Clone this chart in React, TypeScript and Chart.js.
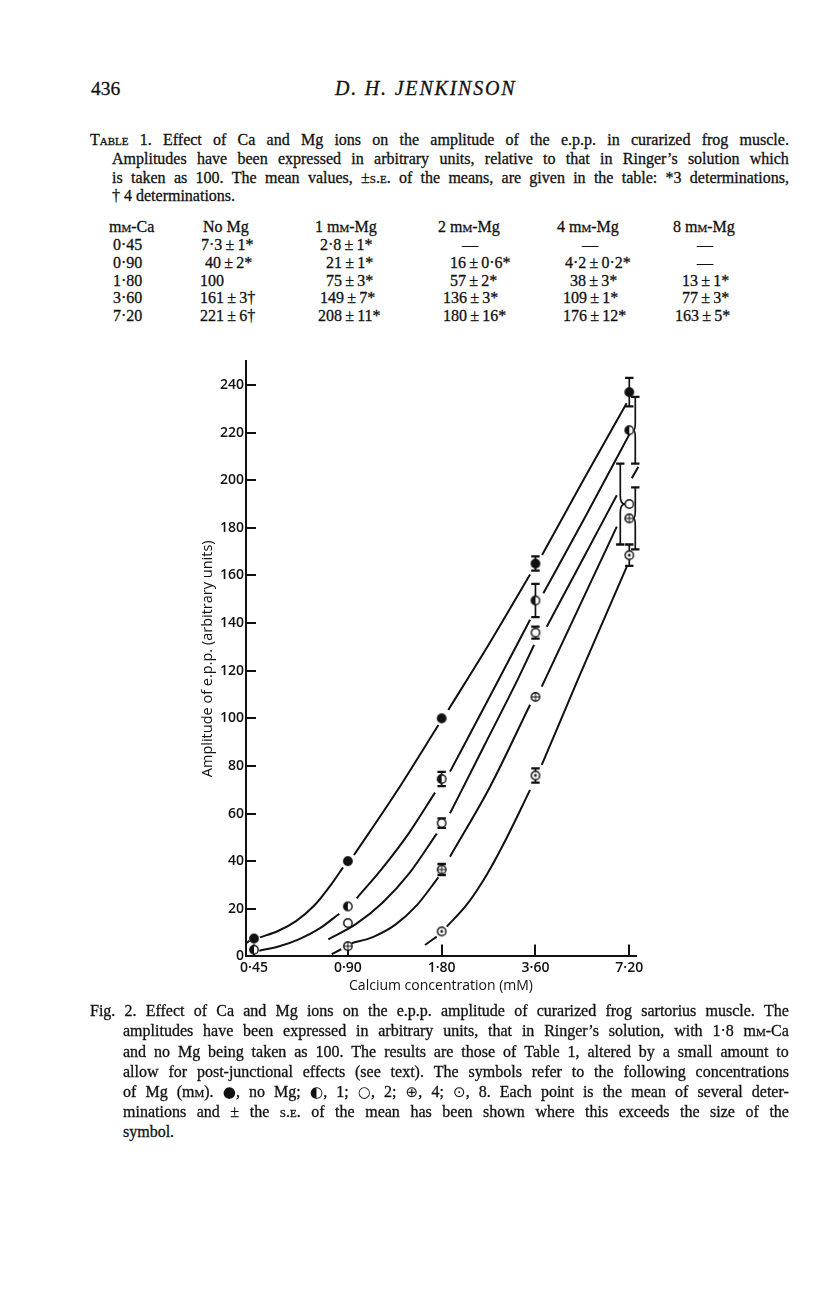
import React, { useEffect, useRef } from 'react';
import { Chart, registerables } from 'chart.js';

Chart.register(...registerables);

// ---------------- DATA ----------------
const caConc = [0.45, 0.9, 1.8, 3.6, 7.2];
const caTickLabels = ['0·45', '0·90', '1·80', '3·60', '7·20'];
const yTickValues = [0, 20, 40, 60, 80, 100, 120, 140, 160, 180, 200, 220, 240];

// plotted amplitudes (figure) and their s.e.
const ampNoMg = [7.5, 40, 100, 165, 237];
const errNoMg = [null, null, null, 3, 6];
const amp1Mg = [2.8, 21, 74.5, 149.5, 221];
const err1Mg = [null, null, 3, 7, 14];
const amp2Mg = [null, 14, 56, 136, 190];
const err2Mg = [null, null, 2, 2.5, 17];
const amp4Mg = [null, 4.3, 36.5, 109, 184];
const err4Mg = [null, null, 2.3, null, 13];
const amp8Mg = [null, null, 10.5, 76, 168.5];
const err8Mg = [null, null, null, 3, 4.5];

type Pt = [number, number] | null;
// hand-drawn fitted curves (null = break in the line)
const curveNoMg: Pt[] = [
  [0.426, 5.7], [0.435, 6.6], null,
  [0.47, 8.0], [0.5374, 10.67], [0.6138, 14.83], [0.701, 21.25], [0.8009, 30.7], [0.8686, 37.42], null,
  [0.942, 42.6], [1.285, 68.84], [1.758, 97.2], null,
  [1.89, 103.5], [2.555, 131.2], [3.459, 160.4], null,
  [3.78, 168.6], [5.13, 200.1], [7.06, 232.3], null,
  [7.59, 239.3], [8.37, 247.4],
];
const curve1Mg: Pt[] = [
  [0.468, 2.4], [0.5425, 4.24], [0.6289, 7.27], [0.729, 11.63], [0.845, 17.93], null,
  [0.961, 24.4], [1.1657, 37.3], [1.4136, 51.8], [1.714, 68.8], null,
  [1.915, 77.6], [2.574, 109.4], [3.459, 141.4], null,
  [3.816, 152.5], [5.26, 185.8], [7.245, 219.9], null,
  [8.03, 229.5], [8.65, 237.2],
];
const curve2Mg: Pt[] = [
  [0.779, 7.2], [0.952, 13.44], [1.163, 22.55], [1.421, 35.07], [1.736, 51.57], null,
  [1.915, 60.1], [2.463, 88.4], [3.17, 116.8], [3.563, 130.8], null,
  [3.913, 138.5], [5.07, 166.1], [6.566, 193.7], null,
  [7.335, 200.8], [7.7, 205.7], null,
  [7.955, 213.4], [8.568, 221.8],
];
const curve4Mg: Pt[] = [
  [0.799, 0.9], [0.857, 3.0], null,
  [0.926, 5.5], [1.0871, 8.23], [1.276, 13.23], [1.497, 21.42], [1.757, 33.22], null,
  [1.915, 41.9], [2.574, 71.27], [3.459, 105.7], null,
  [3.771, 113.3], [6.566, 180.5], null,
  [7.955, 198], [8.6, 206],
];
const curve8Mg: Pt[] = [
  [1.592, 4.8], [1.736, 8.3], null,
  [1.869, 12.5], [2.167, 21.71], [2.512, 34.31], [2.912, 49.85], [3.459, 69.93], null,
  [3.771, 80.4], [4.943, 116.8], [7.068, 163.7], null,
  [7.99, 183.3], [8.65, 190.3],
];

// table 1 text
const tableHeaders = ['m^m^-Ca', 'No Mg', '1 m^m^-Mg', '2 m^m^-Mg', '4 m^m^-Mg', '8 m^m^-Mg'];
const tableCa = ['0·45', '0·90', '1·80', '3·60', '7·20'];
const tableNoMg = ['7·3\u2009±\u20091*', '40\u2009±\u20092*', '100', '161\u2009±\u20093†', '221\u2009±\u20096†'];
const table1Mg = ['2·8\u2009±\u20091*', '21\u2009±\u20091*', '75\u2009±\u20093*', '149\u2009±\u20097*', '208\u2009±\u200911*'];
const table2Mg = ['—', '16\u2009±\u20090·6*', '57\u2009±\u20092*', '136\u2009±\u20093*', '180\u2009±\u200916*'];
const table4Mg = ['—', '4·2\u2009±\u20090·2*', '38\u2009±\u20093*', '109\u2009±\u20091*', '176\u2009±\u200912*'];
const table8Mg = ['—', '—', '13\u2009±\u20091*', '77\u2009±\u20093*', '163\u2009±\u20095*'];

const tableCaption = [
  'T^able^ 1. Effect of Ca and Mg ions on the amplitude of the e.p.p. in curarized frog muscle.',
  'Amplitudes have been expressed in arbitrary units, relative to that in Ringer’s solution which',
  'is taken as 100. The mean values, ±^s.e.^ of the means, are given in the table: *3 determinations,',
  '† 4 determinations.',
];
const figCaption = [
  'Fig. 2. Effect of Ca and Mg ions on the e.p.p. amplitude of curarized frog sartorius muscle. The',
  'amplitudes have been expressed in arbitrary units, that in Ringer’s solution, with 1·8 m^m^-Ca',
  'and no Mg being taken as 100. The results are those of Table 1, altered by a small amount to',
  'allow for post-junctional effects (see text). The symbols refer to the following concentrations',
  'of Mg (m^m^). ●, no Mg; ◐, 1; ○, 2; ⊕, 4; ⊙, 8. Each point is the mean of several deter-',
  'minations and ± the ^s.e.^ of the mean has been shown where this exceeds the size of the',
  'symbol.',
];

// ---------------- STYLE / LAYOUT ----------------
const SERIF = "'Liberation Serif', 'Times New Roman', serif";
const SANS = "'Open Sans', 'Noto Sans', sans-serif";
const SYMBOL_FONT = "'DejaVu Sans', sans-serif";
const INK = '#111';
const TXT = 16;

const tableCapCenters = [141, 160, 178.5, 197];
const tableCapLefts = [90, 112, 112, 112];
const figCapCenters = [1012, 1032, 1053, 1073, 1093, 1113, 1133];
const figCapLefts = [90, 123, 123, 123, 123, 123, 123];
const TEXT_RIGHT = 789;

const headerY = 227;
const rowY = [245, 263, 280.5, 298, 316];
const headerX = [109, 203, 315, 438, 557, 673];
const colX = [
  [113, 113, 113, 113, 113],
  [201, 205, 200, 200, 200],
  [320, 326, 326, 320, 318],
  [462, 450, 450, 443, 443],
  [582, 565, 570, 563, 563],
  [697, 697, 682, 682, 675],
];

// horizontal shift (px) of s.e. bars drawn beside the symbol, key "series-index"
const BAR_SHIFT: Record<string, number> = { '1-4': 6, '2-4': -9, '3-4': 6 };

const series = [
  { amp: ampNoMg, err: errNoMg, curve: curveNoMg, marker: 'filled' },
  { amp: amp1Mg, err: err1Mg, curve: curve1Mg, marker: 'half' },
  { amp: amp2Mg, err: err2Mg, curve: curve2Mg, marker: 'open' },
  { amp: amp4Mg, err: err4Mg, curve: curve4Mg, marker: 'plus' },
  { amp: amp8Mg, err: err8Mg, curve: curve8Mg, marker: 'dot' },
];

function makeMarker(kind: string): HTMLCanvasElement {
  const size = 12;
  const r = 4.2;
  const c = document.createElement('canvas');
  c.width = size;
  c.height = size;
  const g = c.getContext('2d')!;
  const cx = size / 2;
  const cy = size / 2;
  g.lineWidth = 1.4;
  g.strokeStyle = INK;
  g.beginPath();
  g.arc(cx, cy, r, 0, Math.PI * 2);
  g.fillStyle = kind === 'filled' ? INK : '#fff';
  g.fill();
  g.stroke();
  if (kind === 'half') {
    g.beginPath();
    g.arc(cx, cy, r, Math.PI / 2, (Math.PI * 3) / 2);
    g.closePath();
    g.fillStyle = INK;
    g.fill();
  }
  if (kind === 'plus') {
    g.lineWidth = 1;
    g.beginPath();
    g.moveTo(cx - r, cy);
    g.lineTo(cx + r, cy);
    g.moveTo(cx, cy - r);
    g.lineTo(cx, cy + r);
    g.stroke();
  }
  if (kind === 'dot') {
    g.beginPath();
    g.arc(cx, cy, 1.4, 0, Math.PI * 2);
    g.fillStyle = INK;
    g.fill();
  }
  return c;
}

const errorBarPlugin = {
  id: 'errorBars',
  beforeDatasetsDraw(chart: any) {
    const xs = chart.scales.x;
    const ys = chart.scales.y;
    const ctx = chart.ctx as CanvasRenderingContext2D;
    ctx.save();
    ctx.strokeStyle = INK;
    series.forEach((s, si) => {
      s.err.forEach((e, i) => {
        const v = s.amp[i];
        if (e == null || v == null) return;
        const mx = xs.getPixelForValue(caConc[i]);
        const my = ys.getPixelForValue(v);
        const shift = BAR_SHIFT[`${si}-${i}`] || 0;
        const bx = mx + shift;
        const top = ys.getPixelForValue(v + e);
        const bot = ys.getPixelForValue(v - e);
        ctx.lineWidth = 1.7;
        ctx.beginPath();
        if (shift === 0) {
          ctx.moveTo(bx, top);
          ctx.lineTo(bx, bot);
        } else {
          const ex = mx + Math.sign(shift) * 4.2;
          ctx.moveTo(bx, top);
          ctx.lineTo(bx, my - 8);
          ctx.quadraticCurveTo(bx, my, ex, my);
          ctx.moveTo(ex, my);
          ctx.quadraticCurveTo(bx, my, bx, my + 8);
          ctx.lineTo(bx, bot);
        }
        ctx.stroke();
        ctx.lineWidth = 2.3;
        ctx.beginPath();
        ctx.moveTo(bx - 4.2, top);
        ctx.lineTo(bx + 4.2, top);
        ctx.moveTo(bx - 4.2, bot);
        ctx.lineTo(bx + 4.2, bot);
        ctx.stroke();
      });
    });
    ctx.restore();
  },
};

function symbols(text: string, key: string) {
  return text.split(/([●◐○⊕⊙])/).map((p, j) =>
    /^[●◐○⊕⊙]$/.test(p) ? (
      <span key={key + j} style={{ fontFamily: SYMBOL_FONT, fontSize: '0.95em', WebkitTextStroke: '0px' }}>{p}</span>
    ) : (
      <React.Fragment key={key + j}>{p}</React.Fragment>
    )
  );
}

function rich(text: string) {
  return text.split('^').map((part, i) =>
    i % 2 ? (
      <span key={i} style={{ fontVariant: 'small-caps' }}>{part}</span>
    ) : (
      <React.Fragment key={i}>{symbols(part, String(i))}</React.Fragment>
    )
  );
}

function TextLine({ text, left, center, justify }: { text: string; left: number; center: number; justify: boolean }) {
  const base: React.CSSProperties = {
    position: 'absolute',
    left,
    top: center - 8.9,
    fontSize: TXT,
    lineHeight: `${TXT}px`,
    whiteSpace: 'nowrap',
  };
  if (!justify) return <div style={base}>{rich(text)}</div>;
  const words = text.split(' ').filter(Boolean);
  return (
    <div style={{ ...base, width: TEXT_RIGHT - left, display: 'flex', justifyContent: 'space-between' }}>
      {words.map((w, i) => (
        <span key={i}>{rich(w)}</span>
      ))}
    </div>
  );
}

function Cell({ text, x, y }: { text: string; x: number; y: number }) {
  return (
    <div style={{ position: 'absolute', left: x, top: y - 8, fontSize: TXT, lineHeight: `${TXT}px`, whiteSpace: 'nowrap' }}>
      {rich(text)}
    </div>
  );
}

const CV_LEFT = 150;
const CV_TOP = 340;
const CV_W = 540;
const CV_H = 680;

export default function App() {
  const ref = useRef<HTMLCanvasElement>(null);

  useEffect(() => {
    const cv = ref.current;
    if (!cv) return;
    const toXY = (pts: Pt[]) => {
      let lastX = pts.find((p) => p)![0];
      return pts.map((p) => {
        if (!p) return { x: lastX, y: null as any };
        lastX = p[0];
        return { x: p[0], y: p[1] };
      });
    };
    const markerSets = series.map((s) => ({
      type: 'scatter' as const,
      data: caConc
        .map((c, i) => ({ x: c, y: s.amp[i] }))
        .filter((p) => p.y != null) as any,
      pointStyle: makeMarker(s.marker) as any,
      pointRadius: 5,
      showLine: false,
      order: 0,
    }));
    const curveSets = series.map((s) => ({
      type: 'scatter' as const,
      data: toXY(s.curve) as any,
      showLine: true,
      borderColor: INK,
      borderWidth: 2,
      pointRadius: 0,
      cubicInterpolationMode: 'monotone' as const,
      spanGaps: false,
      clip: false as any,
      order: 1,
    }));

    const chart = new Chart(cv, {
      type: 'scatter',
      data: { datasets: [...markerSets, ...curveSets] as any },
      options: {
        animation: false,
        responsive: false,
        events: [],
        layout: { padding: { left: 0, top: 21.2, right: 54, bottom: 0 } },
        plugins: { legend: { display: false }, tooltip: { enabled: false } },
        scales: {
          x: {
            type: 'logarithmic',
            position: 'bottom',
            min: 0.4242,
            max: 7.566,
            afterBuildTicks: (s: any) => {
              s.ticks = caConc.map((v) => ({ value: v }));
            },
            afterFit: (s: any) => {
              s.height = 63.6;
            },
            ticks: {
              autoSkip: false,
              maxRotation: 0,
              minRotation: 0,
              padding: 15.2,
              color: INK,
              font: { family: SANS, size: 14, weight: '600' },
              callback: (_v: any, i: number) => caTickLabels[i],
            },
            grid: { drawOnChartArea: false, drawTicks: true, tickLength: -12, color: INK, lineWidth: 2 },
            border: { display: true, color: INK, width: 2 },
            title: {
              display: true,
              text: 'Calcium concentration (mM)',
              color: INK,
              font: { family: SANS, size: 14, weight: '500' },
              padding: { top: 0, bottom: 25.6 },
            },
          },
          y: {
            type: 'linear',
            min: 0,
            max: 250,
            afterBuildTicks: (s: any) => {
              s.ticks = yTickValues.map((v) => ({ value: v }));
            },
            afterFit: (s: any) => {
              s.width = 96;
            },
            ticks: {
              padding: 12,
              color: INK,
              font: { family: SANS, size: 14, weight: '600' },
              callback: (v: any) => String(v),
            },
            grid: { drawOnChartArea: false, drawTicks: true, tickLength: -10, color: INK, lineWidth: 2 },
            border: { display: true, color: INK, width: 2 },
            title: {
              display: true,
              text: 'Amplitude of e.p.p. (arbitrary units)',
              color: INK,
              font: { family: SANS, size: 14.5, weight: '500' },
              padding: { top: 49.3, bottom: 0 },
            },
          },
        },
      } as any,
      plugins: [errorBarPlugin],
    });
    return () => chart.destroy();
  }, []);

  const cols = [tableCa, tableNoMg, table1Mg, table2Mg, table4Mg, table8Mg];

  return (
    <div
      style={{
        position: 'absolute',
        left: 0,
        top: 0,
        width: 816,
        height: 1296,
        background: '#fff',
        overflow: 'hidden',
        fontFamily: SERIF,
        color: INK,
        WebkitTextStroke: '0.3px #111',
      }}
    >
      <div style={{ position: 'absolute', left: 91, top: 78.5, fontSize: 19.5, lineHeight: '19.5px' }}>436</div>
      <div
        style={{
          position: 'absolute',
          left: 335,
          top: 78.3,
          fontSize: 20,
          lineHeight: '20px',
          fontStyle: 'italic',
          letterSpacing: 1.8,
          whiteSpace: 'nowrap',
        }}
      >
        D. H. JENKINSON
      </div>

      {tableCaption.map((t, i) => (
        <TextLine key={i} text={t} left={tableCapLefts[i]} center={tableCapCenters[i]} justify={i < tableCaption.length - 1} />
      ))}

      {tableHeaders.map((h, c) => (
        <Cell key={'h' + c} text={h} x={headerX[c]} y={headerY} />
      ))}
      {cols.map((col, c) =>
        col.map((t, r) => <Cell key={c + '-' + r} text={t} x={colX[c][r]} y={rowY[r]} />)
      )}

      <canvas
        ref={ref}
        width={CV_W}
        height={CV_H}
        style={{ position: 'absolute', left: CV_LEFT, top: CV_TOP, width: CV_W, height: CV_H }}
      />

      {figCaption.map((t, i) => (
        <TextLine key={'f' + i} text={t} left={figCapLefts[i]} center={figCapCenters[i]} justify={i < figCaption.length - 1} />
      ))}
    </div>
  );
}
